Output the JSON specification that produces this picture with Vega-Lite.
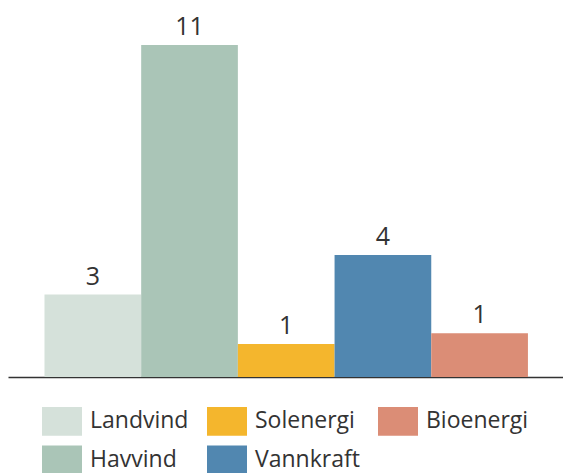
{
  "$schema": "https://vega.github.io/schema/vega-lite/v6.json",
  "width": 555,
  "height": 332,
  "autosize": {"type": "none"},
  "padding": {"left": 8, "top": 45, "right": 0, "bottom": 96},
  "background": "white",
  "config": {"view": {"stroke": null}, "font": "Open Sans"},
  "data": {
    "values": [
      {"kilde": "Landvind", "verdi": 2.73},
      {"kilde": "Havvind", "verdi": 11},
      {"kilde": "Solenergi", "verdi": 1.09},
      {"kilde": "Vannkraft", "verdi": 4.04},
      {"kilde": "Bioenergi", "verdi": 1.45}
    ]
  },
  "encoding": {
    "x": {
      "field": "kilde",
      "type": "nominal",
      "sort": ["Landvind", "Havvind", "Solenergi", "Vannkraft", "Bioenergi"],
      "scale": {"paddingInner": 0, "paddingOuter": 0.37, "align": 0.51},
      "axis": {"title": null, "labels": false, "ticks": false, "domainColor": "#333333", "domainWidth": 1.7}
    },
    "y": {
      "field": "verdi",
      "type": "quantitative",
      "scale": {"domain": [0, 11], "nice": false},
      "axis": null
    }
  },
  "layer": [
    {
      "mark": {"type": "bar"},
      "encoding": {
        "color": {
          "field": "kilde",
          "type": "nominal",
          "scale": {
            "domain": ["Landvind", "Solenergi", "Bioenergi", "Havvind", "Vannkraft"],
            "range": ["#d5e1da", "#f4b62d", "#db8d76", "#aac5b7", "#5187b0"]
          },
          "legend": {
            "title": null,
            "orient": "none",
            "legendX": 34,
            "legendY": 356,
            "columns": 3,
            "direction": "horizontal",
            "symbolType": "M-1,-0.72L1,-0.72L1,0.72L-1,0.72Z",
            "symbolSize": 1600,
            "symbolStrokeWidth": 0,
            "symbolOpacity": 1,
            "labelFontSize": 23,
            "labelColor": "#333333",
            "labelOffset": 8,
            "columnPadding": 18,
            "rowPadding": 4,
            "labelLimit": 300
          }
        }
      }
    },
    {
      "mark": {"type": "text", "baseline": "bottom", "dy": -5, "fontSize": 25, "color": "#333333"},
      "encoding": {
        "text": {"field": "verdi", "type": "quantitative", "format": ".0f"}
      }
    }
  ]
}
